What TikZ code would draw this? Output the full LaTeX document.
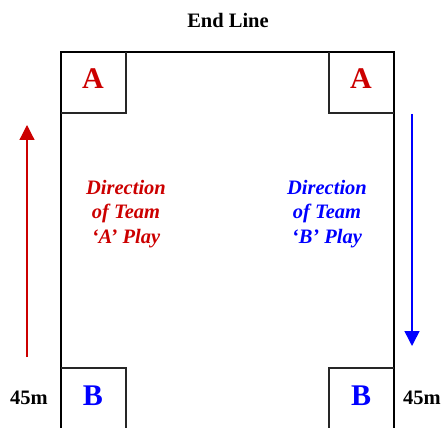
\documentclass[tikz,border=0pt]{standalone}
\usepackage{fontspec}
\setmainfont{Liberation Serif}
\usetikzlibrary{arrows.meta}
\definecolor{tred}{RGB}{204,0,0}
\definecolor{tblue}{RGB}{0,0,255}
\begin{document}
\begin{tikzpicture}[x=1pt,y=-1pt,
  field/.style={line width=1.6pt,black},
  box/.style={line width=1.2pt,black!85},
  letter/.style={font=\fontsize{30}{30}\selectfont\bfseries},
  dirtext/.style={font=\fontsize{20.5}{24.5}\selectfont\bfseries\itshape,align=center},
  lbl/.style={font=\fontsize{20.5}{24}\selectfont\bfseries},
  arr/.style={line width=1.5pt,-{Triangle[length=15pt,width=15pt]}}]
\useasboundingbox (0,0) rectangle (443,427);
% field
\draw[field] (61,430) -- (61,52) -- (394,52) -- (394,430);
% boxes
\draw[box] (61,113) -- (126,113) -- (126,52);
\draw[box] (394,113) -- (329,113) -- (329,52);
\draw[box] (61,368) -- (126,368) -- (126,430);
\draw[box] (394,368) -- (329,368) -- (329,430);
% texts
\node[lbl] (end) at (228,20) {End Line};
\node[letter,text=tred] (a1) at (93,79) {A};
\node[letter,text=tred] (a2) at (361,79) {A};
\node[letter,text=tblue] (b1) at (93,396) {B};
\node[letter,text=tblue] (b2) at (361,396) {B};
\node[dirtext,text=tred] (dA) at (126,214) {Direction\\of Team\\‘A’ Play};
\node[dirtext,text=tblue] (dB) at (327,214) {Direction\\of Team\\‘B’ Play};
\node[lbl] (m1) at (29,398) {45m};
\node[lbl] (m2) at (422,398) {45m};
% arrows
\coordinate (ra) at (27,357);
\coordinate (rb) at (27,125);
\coordinate (ba) at (412,114);
\coordinate (bb) at (412,346);
\draw[arr,tred,line width=1.2pt] (ra) -- (rb);
\draw[arr,tblue] (ba) -- (bb);
\end{tikzpicture}
\end{document}
